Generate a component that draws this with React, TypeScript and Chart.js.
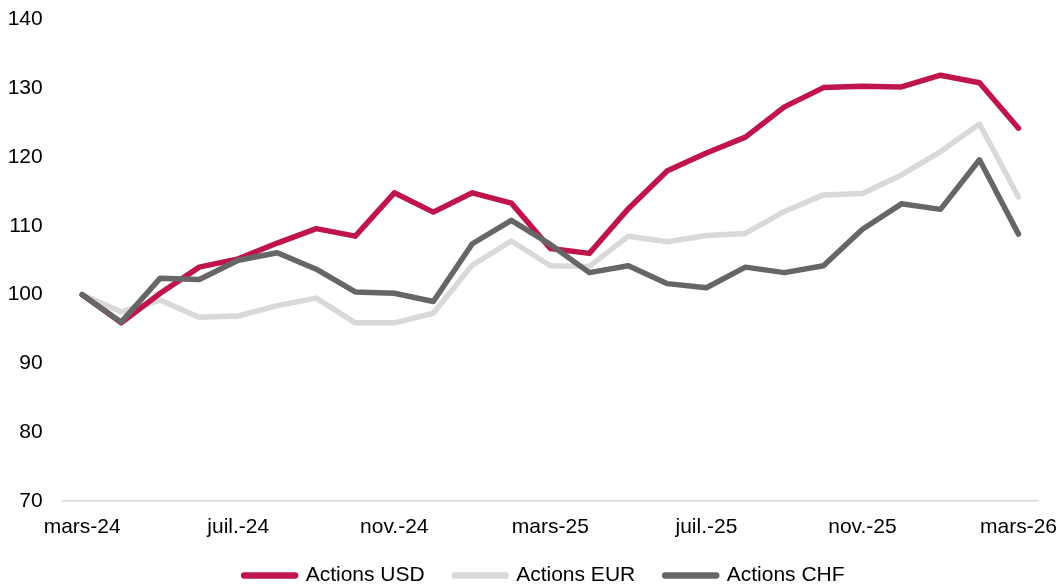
import React, { useEffect, useRef } from 'react';
import { Chart, registerables } from 'chart.js';

Chart.register(...registerables);

const months = [
  'mars-24', 'avr.-24', 'mai-24', 'juin-24', 'juil.-24', 'août-24', 'sept.-24', 'oct.-24',
  'nov.-24', 'déc.-24', 'janv.-25', 'févr.-25', 'mars-25', 'avr.-25', 'mai-25', 'juin-25',
  'juil.-25', 'août-25', 'sept.-25', 'oct.-25', 'nov.-25', 'déc.-25', 'janv.-26', 'févr.-26',
  'mars-26',
];

const actionsUSD = [
  100, 95.9, 100.2, 104.0, 105.2, 107.5, 109.6, 108.5, 114.8, 112.0, 114.8, 113.3, 106.7,
  106.0, 112.5, 118.0, 120.6, 122.9, 127.3, 130.1, 130.3, 130.2, 131.9, 130.8, 124.2,
];

const actionsEUR = [
  100, 97.5, 99.2, 96.7, 96.9, 98.4, 99.5, 95.9, 95.9, 97.3, 104.3, 107.8, 104.2,
  104.1, 108.5, 107.7, 108.6, 108.9, 112.1, 114.5, 114.7, 117.4, 120.8, 124.8, 114.2,
];

const actionsCHF = [
  100, 96.0, 102.4, 102.2, 105.0, 106.1, 103.7, 100.4, 100.2, 99.0, 107.4, 110.8, 107.3,
  103.2, 104.2, 101.6, 101.0, 104.0, 103.2, 104.2, 109.5, 113.2, 112.4, 119.6, 108.8,
];

const seriesNames = ['Actions USD', 'Actions EUR', 'Actions CHF'];
const seriesColors = ['#C0154B', '#D9D9D9', '#666666'];

const yMin = 70;
const yMax = 140;
const yStep = 10;

const FONT = "'Liberation Sans', Arial, Helvetica, sans-serif";

export default function App() {
  const ref = useRef<HTMLCanvasElement>(null);

  useEffect(() => {
    if (!ref.current) return;
    Chart.defaults.font.family = FONT;
    const values = [actionsUSD, actionsEUR, actionsCHF];
    const orders = [1, 2, 0];
    const chart = new Chart(ref.current, {
      type: 'line',
      data: {
        labels: months,
        datasets: values.map((v, i) => ({
          label: seriesNames[i],
          data: v,
          borderColor: seriesColors[i],
          backgroundColor: seriesColors[i],
          borderWidth: 5.5,
          borderCapStyle: 'round',
          borderJoinStyle: 'round',
          pointRadius: 0,
          pointHoverRadius: 0,
          tension: 0,
          fill: false,
          order: orders[i],
        })),
      },
      options: {
        responsive: false,
        animation: false,
        events: [],
        layout: { padding: { left: 0, right: -24.7, top: 11.5, bottom: 0 } },
        plugins: {
          tooltip: { enabled: false },
          title: { display: false },
          legend: {
            display: true,
            position: 'bottom',
            align: 'center',
            maxHeight: 51,
            labels: {
              usePointStyle: true,
              pointStyleWidth: 51,
              padding: 30,
              color: '#000000',
              font: { size: 21, family: FONT },
              generateLabels: (c: any) =>
                c.data.datasets.map((ds: any, i: number) => ({
                  text: ds.label,
                  strokeStyle: ds.borderColor,
                  fillStyle: ds.borderColor,
                  lineWidth: 6.5,
                  lineCap: 'round',
                  pointStyle: 'line',
                  hidden: false,
                  datasetIndex: i,
                  fontColor: '#000000',
                })),
            },
          },
        },
        scales: {
          x: {
            type: 'category',
            offset: true,
            grid: { display: false, drawTicks: false },
            border: { display: true, color: '#D9D9D9', width: 1.5 },
            ticks: {
              autoSkip: false,
              maxRotation: 0,
              minRotation: 0,
              mirror: true,
              padding: -39.3,
              color: '#000000',
              font: { size: 21, family: FONT },
              callback: (_v: any, index: number) => (index % 4 === 0 ? months[index] : ''),
            },
            afterFit: (s: any) => {
              s.height = 34;
              s.paddingLeft = 0;
              s.paddingRight = 18;
            },
          },
          y: {
            min: yMin,
            max: yMax,
            grid: { display: false, drawTicks: false },
            border: { display: false },
            ticks: {
              stepSize: yStep,
              padding: 20,
              color: '#000000',
              font: { size: 21, family: FONT },
            },
            afterFit: (s: any) => {
              s.width = 54.7;
              s.paddingTop = 0;
              s.paddingBottom = 0;
            },
          },
        },
      },
    });
    return () => chart.destroy();
  }, []);

  return <canvas ref={ref} width={1048} height={578} style={{ display: 'block' }} />;
}
